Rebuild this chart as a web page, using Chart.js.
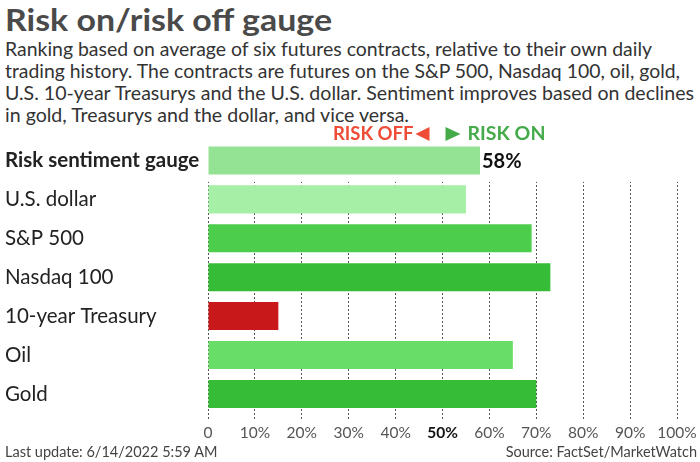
<!DOCTYPE html>
<html>
<head>
<meta charset="utf-8">
<script src="https://cdn.jsdelivr.net/npm/chart.js@4.4.0/dist/chart.umd.min.js"></script>
<style>
  body { margin: 0; width: 700px; height: 462px; background: #fff; font-family: Lato, sans-serif; color: #333; position: relative; overflow: hidden; }
  #title { position: absolute; left: 5px; top: 0px; font-size: 30px; font-weight: 700; color: #4a4a4a; line-height: 38px; white-space: nowrap; transform-origin: left top; }
  .sub { position: absolute; left: 5px; font-size: 19px; line-height: 22px; color: #333; white-space: nowrap; transform-origin: left top; }
  #wrap { position: absolute; left: 0; top: 120px; width: 700px; height: 334px; }
  .foot { position: absolute; top: 443px; font-size: 14.5px; color: #444; white-space: nowrap; }
</style>
</head>
<body>
<div id="title" data-w="327">Risk on/risk off gauge</div>
<div class="sub" style="top:38px" data-w="647">Ranking based on average of six futures contracts, relative to their own daily</div>
<div class="sub" style="top:60px" data-w="675">trading history. The contracts are futures on the S&amp;P 500, Nasdaq 100, oil, gold,</div>
<div class="sub" style="top:82px" data-w="689">U.S. 10-year Treasurys and the U.S. dollar. Sentiment improves based on declines</div>
<div class="sub" style="top:104px" data-w="404">in gold, Treasurys and the dollar, and vice versa.</div>
<div id="wrap"><canvas id="chart" width="700" height="334"></canvas></div>
<div class="foot" style="left:5px">Last update: 6/14/2022 5:59 AM</div>
<div class="foot" style="right:3px">Source: FactSet/MarketWatch</div>
<script>
const categories = ['Risk sentiment gauge', 'U.S. dollar', 'S&P 500', 'Nasdaq 100', '10-year Treasury', 'Oil', 'Gold'];
const values = [58, 55, 69, 73, 15, 65, 70];
const barColors = ['#94e294', '#a6efa6', '#4ccd4c', '#37bc37', '#c8181a', '#68dd68', '#36bc36'];
const tickValues = [0, 10, 20, 30, 40, 50, 60, 70, 80, 90, 100];

// stretch header lines to the widths seen in the original
document.querySelectorAll('[data-w]').forEach(el => {
  const w = el.getBoundingClientRect().width;
  el.style.transform = 'scaleX(' + (Number(el.dataset.w) / w) + ')';
});

const extras = {
  id: 'extras',
  // hide the grid behind the gauge row
  beforeDatasetsDraw(chart) {
    const ctx = chart.ctx, y = chart.scales.y, a = chart.chartArea;
    const cut = (y.getPixelForValue(0) + y.getPixelForValue(1)) / 2 + 2;
    ctx.save();
    ctx.fillStyle = '#fff';
    ctx.fillRect(a.left - 2, a.top - 1, a.right - a.left + 4, cut - a.top + 1);
    ctx.restore();
  },
  afterDatasetsDraw(chart) {
    const ctx = chart.ctx, x = chart.scales.x, y = chart.scales.y;
    ctx.save();
    ctx.font = 'bold 20px Lato';
    ctx.fillStyle = '#111';
    ctx.textBaseline = 'middle';
    ctx.fillText(values[0] + '%', x.getPixelForValue(values[0]) + 2, y.getPixelForValue(0) + 1);

    const mid = x.getPixelForValue(50);
    const ty = 14;
    ctx.font = 'bold 18.5px Lato';
    ctx.textAlign = 'right';
    ctx.fillStyle = '#ef4c38';
    ctx.fillText('RISK OFF', mid - 29, ty);
    ctx.beginPath();
    ctx.moveTo(mid - 27, ty); ctx.lineTo(mid - 13, ty - 7); ctx.lineTo(mid - 13, ty + 7); ctx.closePath();
    ctx.fill();
    ctx.fillStyle = '#45ab4a';
    ctx.beginPath();
    ctx.moveTo(mid + 18, ty); ctx.lineTo(mid + 3, ty - 7); ctx.lineTo(mid + 3, ty + 7); ctx.closePath();
    ctx.fill();
    ctx.textAlign = 'left';
    ctx.font = 'bold 19.5px Lato';
    ctx.fillText('RISK ON', mid + 25, ty);
    ctx.restore();
  }
};

new Chart(document.getElementById('chart'), {
  type: 'bar',
  data: {
    labels: categories,
    datasets: [{
      data: values,
      backgroundColor: barColors,
      barPercentage: 0.72,
      categoryPercentage: 1
    }]
  },
  options: {
    indexAxis: 'y',
    responsive: false,
    animation: false,
    layout: { padding: { left: 5, right: 23, top: 21, bottom: 9 } },
    plugins: { legend: { display: false }, tooltip: { enabled: false } },
    scales: {
      x: {
        min: 0, max: 100,
        afterBuildTicks(s) { s.ticks = tickValues.map(v => ({ value: v })); },
        grid: {
          color: '#555',
          lineWidth: 1,
          drawTicks: true,
          tickLength: 7,
          tickBorderDash: [2, 2],
          tickColor: '#555'
        },
        border: { display: false, dash: [2, 2] },
        ticks: {
          padding: 3,
          color: ctx => ctx.tick && ctx.tick.value === 50 ? '#111' : '#555',
          font: ctx => ({ family: 'Lato', size: 15.5, weight: ctx.tick && ctx.tick.value === 50 ? 'bold' : 'normal' }),
          callback: v => v === 0 ? '0' : v + '%'
        }
      },
      y: {
        afterFit(s) { s.width = 203; },
        grid: { display: false, drawTicks: false },
        border: { display: false },
        ticks: {
          crossAlign: 'far',
          padding: 0,
          color: '#222',
          font: ctx => ({ family: 'Lato', size: 20.5, weight: ctx.index === 0 ? 'bold' : 'normal' })
        }
      }
    }
  },
  plugins: [extras]
});
</script>
</body>
</html>
